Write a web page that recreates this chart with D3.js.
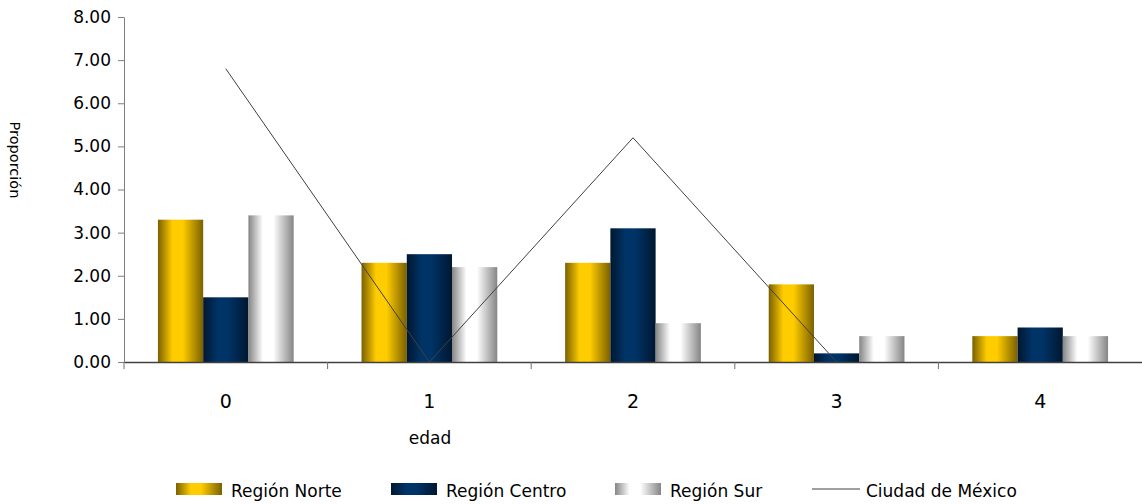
<!DOCTYPE html>
<html>
<head>
<meta charset="utf-8">
<script src="https://cdn.jsdelivr.net/npm/d3@7"></script>
<style>
  html, body { margin: 0; padding: 0; background: #fff; }
  svg text { font-family: "DejaVu Sans", "Liberation Sans", sans-serif; fill: #000; }
</style>
</head>
<body>
<svg id="chart" width="1142" height="504"></svg>
<script>
const categories = ["0", "1", "2", "3", "4"];
const norte  = [3.3, 2.3, 2.3, 1.8, 0.6];
const centro = [1.5, 2.5, 3.1, 0.2, 0.8];
const sur    = [3.4, 2.2, 0.9, 0.6, 0.6];
const cdmx   = [6.8, 0.0, 5.2, 0.0, null];
const yTicks = [0, 1, 2, 3, 4, 5, 6, 7, 8];
const seriesNames = ["Región Norte", "Región Centro", "Región Sur"];
const lineName = "Ciudad de México";

const svg = d3.select("#chart");
const margin = { left: 124, right: 0, top: 17, bottom: 142 };
const W = 1142, H = 504;

const x = d3.scaleBand().domain(categories).range([margin.left, W - margin.right]).paddingInner(0).paddingOuter(0);
const inner = d3.scaleBand().domain(seriesNames).range([0, x.bandwidth()]).paddingInner(0).paddingOuter(0.75);
const y = d3.scaleLinear().domain([0, 8]).range([H - margin.bottom, margin.top]);

// Cylinder-like horizontal gradients for each series
const defs = svg.append("defs");
function grad(id, edge, mid) {
  const g = defs.append("linearGradient").attr("id", id).attr("x1", "0%").attr("x2", "100%").attr("y1", "0%").attr("y2", "0%");
  [[0, edge], [0.32, mid], [0.55, mid], [1, edge]].forEach(([o, c]) =>
    g.append("stop").attr("offset", o).attr("stop-color", c));
}
grad("gNorte", "#7a6000", "#ffcc00");
grad("gCentro", "#001730", "#003366");
grad("gSur", "#858585", "#ffffff");
const fills = ["url(#gNorte)", "url(#gCentro)", "url(#gSur)"];
const seriesData = [norte, centro, sur];

// Y axis
const yAxis = svg.append("g").attr("transform", `translate(${margin.left},0)`)
  .call(d3.axisLeft(y).tickValues(yTicks).tickFormat(d3.format(".2f")).tickSize(6).tickSizeOuter(0));
yAxis.select(".domain").attr("stroke", "#7f7f7f");
yAxis.selectAll(".tick line").attr("stroke", "#7f7f7f");
yAxis.selectAll(".tick text").attr("font-size", 17).attr("x", -13);

// Bars
seriesData.forEach((vals, si) => {
  svg.append("g").selectAll("rect").data(vals).join("rect")
    .attr("x", (d, i) => x(categories[i]) + inner(seriesNames[si]))
    .attr("width", inner.bandwidth())
    .attr("y", d => y(d))
    .attr("height", d => y(0) - y(d))
    .attr("fill", fills[si]);
});

// X axis
const xAxis = svg.append("g").attr("transform", `translate(0,${y(0)})`)
  .call(d3.axisBottom(x).tickSize(0).tickSizeOuter(0));
xAxis.select(".domain").attr("stroke", "#404040").attr("stroke-width", 1.3);
xAxis.selectAll(".tick text").attr("font-size", 19).attr("y", 46).attr("dy", 0);
// boundary tick marks between categories
svg.append("g").selectAll("line").data(categories.slice(1)).join("line")
  .attr("x1", d => x(d)).attr("x2", d => x(d))
  .attr("y1", y(0)).attr("y2", y(0) + 7)
  .attr("stroke", "#6f6f6f");
svg.append("line").attr("x1", margin.left).attr("x2", margin.left).attr("y1", y(0)).attr("y2", y(0) + 7).attr("stroke", "#6f6f6f");

// Line series
const line = d3.line()
  .defined(d => d != null)
  .x((d, i) => x(categories[i]) + x.bandwidth() / 2)
  .y(d => y(d));
svg.append("path").datum(cdmx).attr("d", line)
  .attr("fill", "none").attr("stroke", "#404040").attr("stroke-width", 1);

// Axis titles
svg.append("text").attr("x", 430).attr("y", 444).attr("text-anchor", "middle").attr("font-size", 17).text("edad");
svg.append("text").attr("transform", "translate(10,160) rotate(90)").attr("text-anchor", "middle").attr("font-size", 14.5).text("Proporción");

// Legend
const legendY = 489;
const legendItems = [
  { name: seriesNames[0], fill: fills[0], x: 176 },
  { name: seriesNames[1], fill: fills[1], x: 391 },
  { name: seriesNames[2], fill: fills[2], x: 615 }
];
const lg = svg.append("g");
legendItems.forEach(it => {
  lg.append("rect").attr("x", it.x).attr("y", legendY - 6).attr("width", 46).attr("height", 12).attr("fill", it.fill);
  lg.append("text").attr("x", it.x + 55).attr("y", legendY + 8).attr("font-size", 17).text(it.name);
});
lg.append("line").attr("x1", 812).attr("x2", 860).attr("y1", legendY).attr("y2", legendY).attr("stroke", "#404040");
lg.append("text").attr("x", 866).attr("y", legendY + 8).attr("font-size", 17).text(lineName);
</script>
</body>
</html>
